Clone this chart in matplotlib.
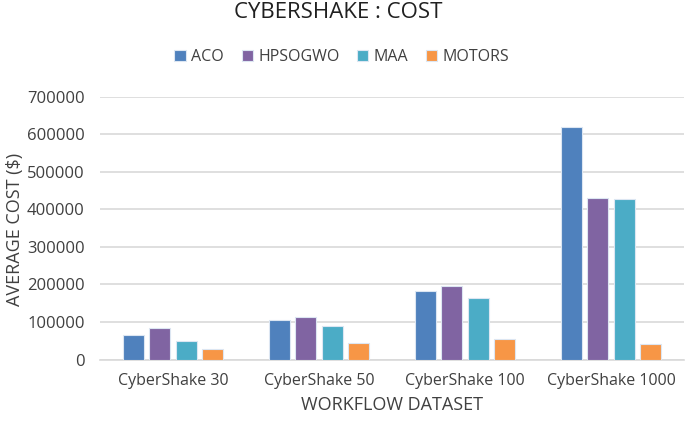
import matplotlib
matplotlib.use("Agg")
import matplotlib.pyplot as plt
import numpy as np

categories = ["CyberShake 30", "CyberShake 50", "CyberShake 100", "CyberShake 1000"]
series_names = ["ACO", "HPSOGWO", "MAA", "MOTORS"]
aco = [64000, 105500, 182500, 619000]
hpsogwo = [85000, 113500, 195500, 431500]
maa = [48500, 90000, 164500, 426500]
motors = [28000, 43500, 53500, 42500]
yticks = [0, 100000, 200000, 300000, 400000, 500000, 600000, 700000]

colors = ["#4F81BD", "#8064A2", "#4BACC6", "#F79646"]
plt.rcParams['font.family'] = ['Open Sans', 'DejaVu Sans']

fig = plt.figure(figsize=(6.85, 4.21), dpi=100)
ax = fig.add_axes([100/685, 1-359.5/421, 584/685, (359.5-96.8)/421])

x = np.arange(len(categories))
width = 0.144
pitch = 0.181
data = [aco, hpsogwo, maa, motors]
for i, (name, vals) in enumerate(zip(series_names, data)):
    ax.bar(x + (i - 1.5) * pitch, vals, width, color=colors[i], label=name,
           edgecolor="#DCE6F2", linewidth=0.8, zorder=3)

ax.set_xlim(-0.5, len(categories) - 0.5)
ax.set_ylim(0, 700000)
ax.set_yticks(yticks)
ax.set_yticklabels([str(v) for v in yticks])
ax.set_xticks(x)
ax.set_xticklabels(categories)
ax.grid(axis="y", color="#D9D9D9", linewidth=1.2, zorder=0)
for s in ["top", "right", "left"]:
    ax.spines[s].set_visible(False)
ax.spines["bottom"].set_color("#D9D9D9")
ax.spines["bottom"].set_linewidth(1.2)
ax.tick_params(axis="y", length=0, labelsize=12, colors="#404040", pad=11)
ax.tick_params(axis="x", length=0, labelsize=11.5, colors="#404040", pad=10)

ax.set_xlabel("WORKFLOW DATASET", fontsize=13, color="#404040", labelpad=5)
fig.text(15/685, 1-229/421, "AVERAGE COST ($)", rotation=90, ha="center", va="center",
         fontsize=13, color="#404040")
fig.text(338/685, 1-13/421, "CYBERSHAKE : COST", ha="center", va="center",
         fontsize=16, color="#202020")

leg = fig.legend(loc="center", bbox_to_anchor=(342/685, 1-57/421), ncol=4, frameon=False,
                 fontsize=11.5, handlelength=0.7, handleheight=0.7, columnspacing=1.1,
                 handletextpad=0.35)
for t in leg.get_texts():
    t.set_color("#404040")

fig.savefig("out.png", dpi=100)
